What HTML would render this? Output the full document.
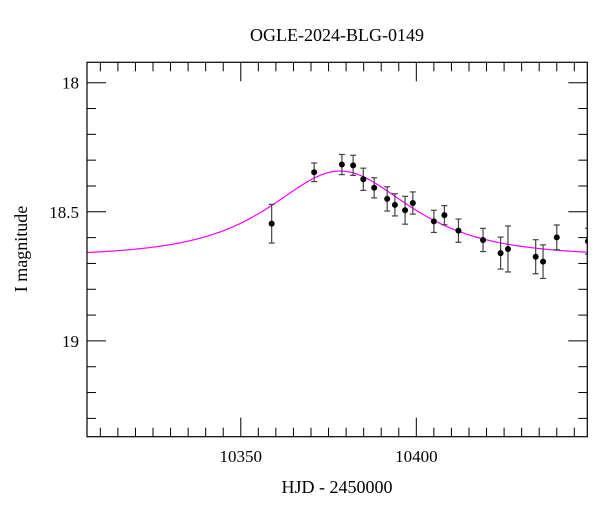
<!DOCTYPE html>
<html><head><meta charset="utf-8"><style>
html,body{margin:0;padding:0;background:#fff;}
svg text{font-family:"Liberation Serif",serif;fill:#000;}
</style></head><body>
<svg id="chart" width="600" height="512" viewBox="0 0 600 512" xmlns="http://www.w3.org/2000/svg">
<text x="337" y="41" font-size="18" text-anchor="middle">OGLE-2024-BLG-0149</text>
<defs><clipPath id="plotclip"><rect x="87" y="62.3" width="500.3" height="374.4"/></clipPath></defs>
<g id="ticks"></g>
<g id="model" clip-path="url(#plotclip)"></g>
<g id="pts" clip-path="url(#plotclip)"></g>
<rect x="87" y="62.3" width="500.3" height="374.4" fill="none" stroke="#000" stroke-width="1.2"/>
<text x="337" y="493" font-size="18" text-anchor="middle">HJD - 2450000</text>
<text x="0" y="0" font-size="18" text-anchor="middle" transform="translate(27,249) rotate(-90)">I magnitude</text>
</svg>
<script>
const times=[10358.8,10370.9,10378.8,10382.0,10384.9,10388.0,10391.7,10393.9,10396.8,10399.0,10405.0,10408.0,10412.0,10419.0,10424.0,10426.1,10434.0,10436.1,10440.0,10448.9];
const mags=[18.546,18.347,18.317,18.320,18.374,18.407,18.450,18.473,18.494,18.466,18.537,18.513,18.573,18.609,18.660,18.644,18.674,18.693,18.599,18.614];
const errs=[0.075,0.036,0.039,0.039,0.043,0.039,0.047,0.043,0.054,0.043,0.043,0.037,0.045,0.045,0.062,0.089,0.066,0.065,0.048,0.05];
const xTickLabels=[10350,10400];
const yTickLabels=[18,18.5,19];
const modelT0=10378.3, modelU0=0.98, modelTE=24, modelBase=18.673;

const X0=87,X1=587.3,Y0=62.3,Y1=436.7;
const tMin=10306.2,tMax=10448.7,mMin=17.921,mMax=19.371;
const xs=t=>X0+(t-tMin)/(tMax-tMin)*(X1-X0);
const ys=m=>Y0+(m-mMin)/(mMax-mMin)*(Y1-Y0);
const NS="http://www.w3.org/2000/svg";
function mk(tag,attrs,parent){const e=document.createElementNS(NS,tag);for(const k in attrs)e.setAttribute(k,attrs[k]);parent.appendChild(e);return e;}
const tg=document.getElementById('ticks');
for(let t=10310;t<=10445;t+=5){
  const major=xTickLabels.includes(t);const len=major?19:9;const x=xs(t);
  const l1=mk('line',{x1:x,x2:x,y1:Y1,y2:Y1-len,stroke:'#000','stroke-width':1},tg);
  
  
  const l2=mk('line',{x1:x,x2:x,y1:Y0,y2:Y0+len,stroke:'#000','stroke-width':1},tg);
  
  
}
xTickLabels.forEach(t=>{
  const tx=mk('text',{x:xs(t),y:462,'font-size':17,'text-anchor':'middle'},tg);tx.textContent=t;
  
  
});
for(let i=0;i<=13;i++){
  const m=18+i*0.1;if(m>mMax)break;const y=ys(m);
  const major=Math.abs(m*2-Math.round(m*2))<1e-6;const len=major?19:9;
  const l1=mk('line',{x1:X0,x2:X0+len,y1:y,y2:y,stroke:'#000','stroke-width':1},tg);
  
  
  const l2=mk('line',{x1:X1,x2:X1-len,y1:y,y2:y,stroke:'#000','stroke-width':1},tg);
  
  
}
yTickLabels.forEach(m=>{
  const tx=mk('text',{x:79,y:ys(m)+6,'font-size':17,'text-anchor':'end'},tg);tx.textContent=m;
  
  
});
let d='';
for(let t=tMin;t<=tMax;t+=0.25){
  const tau=(t-modelT0)/modelTE;const u=Math.sqrt(modelU0*modelU0+tau*tau);
  const A=(u*u+2)/(u*Math.sqrt(u*u+4));const m=modelBase-2.5*Math.log10(A);
  d+=(d?'L':'M')+xs(t).toFixed(2)+','+ys(m).toFixed(2);
}
const mp=mk('path',{d:d,fill:'none',stroke:'#ff00ff','stroke-width':1.2},document.getElementById('model'));


const pg=document.getElementById('pts');
times.forEach((t,i)=>{
  const x=xs(t),y=ys(mags[i]),ya=ys(mags[i]-errs[i]),yb=ys(mags[i]+errs[i]);
  const g=mk('g',{},pg);
  
  
  mk('line',{x1:x,x2:x,y1:ya,y2:yb,stroke:'#444','stroke-width':1.2},g);
  mk('line',{x1:x-3,x2:x+3,y1:ya,y2:ya,stroke:'#444','stroke-width':1.2},g);
  mk('line',{x1:x-3,x2:x+3,y1:yb,y2:yb,stroke:'#444','stroke-width':1.2},g);
  mk('circle',{cx:x,cy:y,r:3,fill:'#000'},g);
});
</script>
</body></html>
